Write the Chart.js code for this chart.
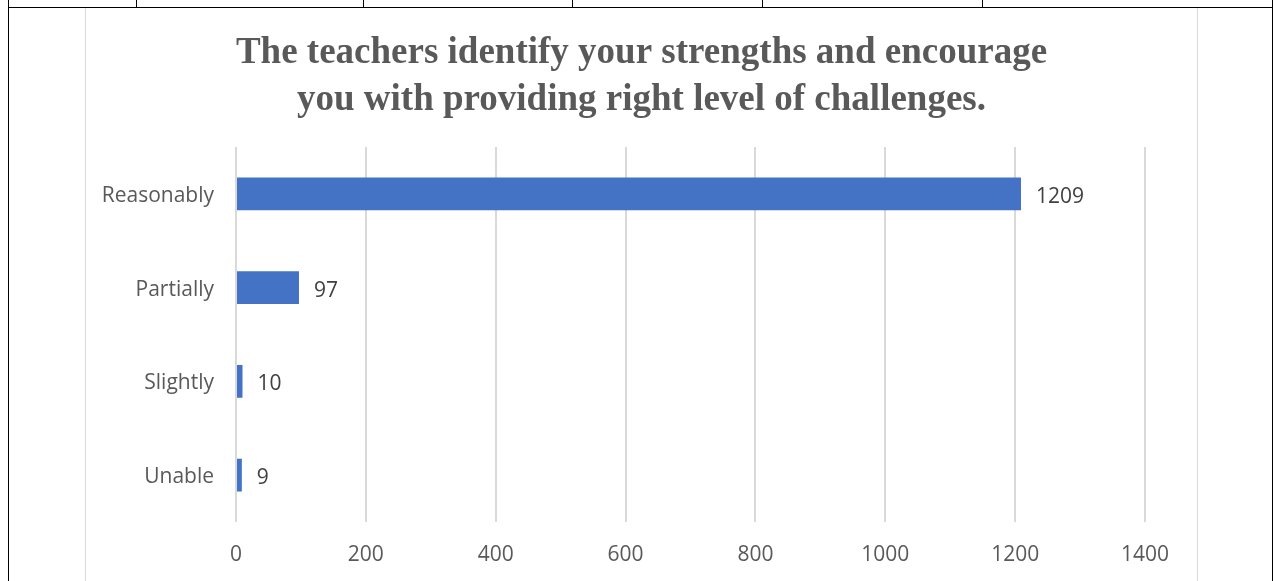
<!DOCTYPE html>
<html>
<head>
<meta charset="utf-8">
<script src="https://cdn.jsdelivr.net/npm/chart.js@4.4.0/dist/chart.umd.min.js"></script>
<style>
    html, body { margin: 0; padding: 0; background: #fff; }
    body { width: 1274px; height: 581px; position: relative; overflow: hidden; }
    .rule { position: absolute; background: #000; }
    .chart-box {
        position: absolute; left: 85px; top: 8px; width: 1111px; height: 580px;
        border-left: 1px solid #d9d9d9; border-right: 1px solid #d9d9d9;
    }
    .chart-box canvas { display: block; }
</style>
</head>
<body>
<!-- surrounding table lines -->
<div class="rule" style="left:8px;top:7px;width:1265px;height:1px;"></div>
<div class="rule" style="left:8px;top:0;width:1px;height:581px;"></div>
<div class="rule" style="left:1272px;top:0;width:1px;height:581px;"></div>
<div class="rule" style="left:136px;top:0;width:1px;height:7px;"></div>
<div class="rule" style="left:363px;top:0;width:1px;height:7px;"></div>
<div class="rule" style="left:572px;top:0;width:1px;height:7px;"></div>
<div class="rule" style="left:762px;top:0;width:1px;height:7px;"></div>
<div class="rule" style="left:982px;top:0;width:1px;height:7px;"></div>

<div class="chart-box">
    <canvas id="barChart" width="1111" height="573"></canvas>
</div>

<script>
const categories = ['Reasonably', 'Partially', 'Slightly', 'Unable'];
const responses = [1209, 97, 10, 9];
const xTicks = [0, 200, 400, 600, 800, 1000, 1200, 1400];
const titleLines = [
    'The teachers identify your strengths and encourage',
    'you with providing right level of challenges.'
];

const labelFont = { family: "'Open Sans', sans-serif", size: 21 };

// Value labels at the end of each bar
const barValueLabels = {
    id: 'barValueLabels',
    afterDatasetsDraw(chart) {
        const ctx = chart.ctx;
        const meta = chart.getDatasetMeta(0);
        ctx.save();
        ctx.font = `${labelFont.size}px ${labelFont.family}`;
        ctx.fillStyle = '#404040';
        ctx.textAlign = 'left';
        ctx.textBaseline = 'middle';
        meta.data.forEach((bar, i) => {
            ctx.fillText(String(responses[i]), bar.x + 15, bar.y + 3);
        });
        ctx.restore();
    }
};

// y labels overflow into the left padding, so widen the label clip area
const unclipYLabels = {
    id: 'unclipYLabels',
    afterLayout(chart) {
        chart.scales.y.left = 0;
    }
};

new Chart(document.getElementById('barChart'), {
    type: 'bar',
    data: {
        labels: categories,
        datasets: [{
            data: responses,
            backgroundColor: '#4472c4',
            barPercentage: 0.35,
            categoryPercentage: 1
        }]
    },
    options: {
        indexAxis: 'y',
        responsive: false,
        animation: false,
        layout: { padding: { left: 52, right: 52, top: 0, bottom: 0 } },
        plugins: {
            legend: { display: false },
            tooltip: { enabled: false },
            title: {
                display: true,
                text: titleLines,
                color: '#595959',
                font: { family: "'Liberation Serif', 'Times New Roman', serif", size: 37, weight: 'bold', lineHeight: 1.27 },
                padding: { top: 22, bottom: 23 }
            }
        },
        scales: {
            x: {
                min: 0,
                max: 1400,
                afterBuildTicks(scale) {
                    scale.ticks = xTicks.map(v => ({ value: v }));
                },
                afterFit(scale) { scale.height = 59; },
                grid: { color: '#d9d9d9', lineWidth: 2, drawTicks: false },
                border: { display: false },
                ticks: {
                    color: '#595959', font: labelFont, padding: 20,
                    callback: v => String(v)
                }
            },
            y: {
                afterFit(scale) { scale.width = 98; },
                grid: { display: false, drawTicks: false },
                border: { display: false },
                ticks: { color: '#595959', font: labelFont, padding: 22, labelOffset: 2 }
            }
        }
    },
    plugins: [barValueLabels, unclipYLabels]
});
</script>
</body>
</html>
